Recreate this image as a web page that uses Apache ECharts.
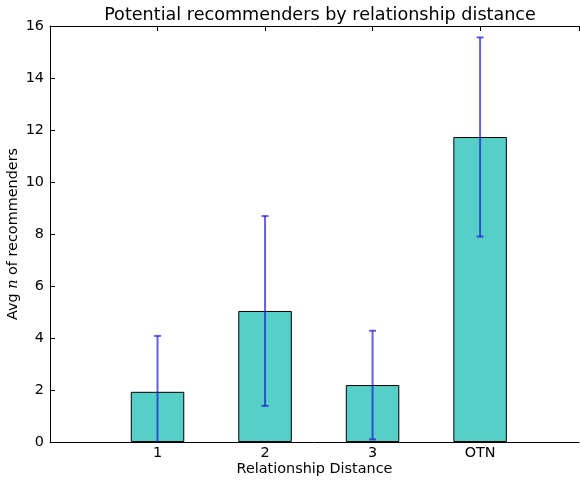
<!DOCTYPE html>
<html>
<head>
<meta charset="utf-8">
<script src="https://cdn.jsdelivr.net/npm/echarts@6/dist/echarts.min.js"></script>
<style>
  html, body { margin: 0; padding: 0; background: #fff; }
  #chart { width: 580px; height: 480px; }
</style>
</head>
<body>
<div id="chart"></div>
<script>
// Average number of potential recommenders per relationship distance
const categories = ['1', '2', '3', 'OTN'];
const avgRecommenders = [1.93, 5.04, 2.19, 11.73];
const stdError = [2.15, 3.65, 2.09, 3.83];
const yTicks = [0, 2, 4, 6, 8, 10, 12, 14, 16];

const FONT = 'DejaVu Sans';
const LABEL_SIZE = 14.4;
const X_MIN = -1, X_MAX = 3.92;
const chart = echarts.init(document.getElementById('chart'), null, { renderer: 'canvas' });

const barData = avgRecommenders.map((v, i) => [i, v]);
const errData = avgRecommenders.map((v, i) => [i, v - stdError[i], v + stdError[i]]);

const spine = { show: true, onZero: false, lineStyle: { color: '#000', width: 1 } };
const innerTick = { show: true, inside: true, length: 5, lineStyle: { color: '#000', width: 1 } };

chart.setOption({
  animation: false,
  backgroundColor: '#fff',
  title: {
    text: 'Potential recommenders by relationship distance',
    left: 315, top: 1, textAlign: 'center',
    textStyle: { fontFamily: FONT, fontSize: 17.6, fontWeight: 'normal', color: '#000' }
  },
  grid: { left: 50, top: 26, right: 1, bottom: 38, containLabel: false, outerBoundsMode: 'none' },
  xAxis: [{
    type: 'value', min: X_MIN, max: X_MAX, interval: 1,
    axisLine: spine,
    axisTick: innerTick,
    splitLine: { show: false },
    axisLabel: {
      fontFamily: FONT, fontSize: LABEL_SIZE, color: '#000', margin: 4,
      showMaxLabel: false,
      formatter: v => (Number.isInteger(v) && v >= 0 && v < categories.length ? categories[v] : '')
    },
    name: 'Relationship Distance', nameLocation: 'middle', nameGap: 20,
    nameMoveOverlap: false,
    nameTextStyle: { fontFamily: FONT, fontSize: LABEL_SIZE, color: '#000' }
  }, {
    type: 'value', min: X_MIN, max: X_MAX, interval: 1, position: 'top',
    axisLine: spine,
    axisTick: innerTick,
    axisLabel: { show: false },
    splitLine: { show: false }
  }],
  yAxis: [{
    type: 'value', min: yTicks[0], max: yTicks[yTicks.length - 1], interval: 2,
    axisLine: spine,
    axisTick: innerTick,
    splitLine: { show: false },
    axisLabel: { fontFamily: FONT, fontSize: LABEL_SIZE, color: '#000', margin: 6 },
    name: '{a|Avg }{m|n}{a| of recommenders}',
    nameLocation: 'middle', nameGap: 30, nameRotate: 90,
    nameMoveOverlap: false,
    nameTextStyle: {
      rich: {
        a: { fontFamily: FONT, fontSize: LABEL_SIZE, color: '#000' },
        m: { fontFamily: 'DejaVu Serif', fontStyle: 'italic', fontSize: LABEL_SIZE, color: '#000' }
      }
    }
  }],
  series: [{
    type: 'bar',
    data: barData,
    barWidth: 53.5,
    itemStyle: { color: '#57cfc9', borderColor: '#000', borderWidth: 1 },
    z: 2
  }, {
    type: 'custom',
    data: errData,
    clip: true,
    z: 3,
    renderItem: (params, api) => {
      const x = api.value(0);
      const lo = api.coord([x, api.value(1)]);
      const hi = api.coord([x, api.value(2)]);
      const cap = 3.5;
      const style = { stroke: 'rgba(30,20,210,0.68)', lineWidth: 2 };
      return {
        type: 'group',
        children: [
          { type: 'line', shape: { x1: hi[0], y1: hi[1], x2: lo[0], y2: lo[1] }, style },
          { type: 'line', shape: { x1: hi[0] - cap, y1: hi[1], x2: hi[0] + cap, y2: hi[1] }, style },
          { type: 'line', shape: { x1: lo[0] - cap, y1: lo[1], x2: lo[0] + cap, y2: lo[1] }, style }
        ]
      };
    }
  }]
});
</script>
</body>
</html>
